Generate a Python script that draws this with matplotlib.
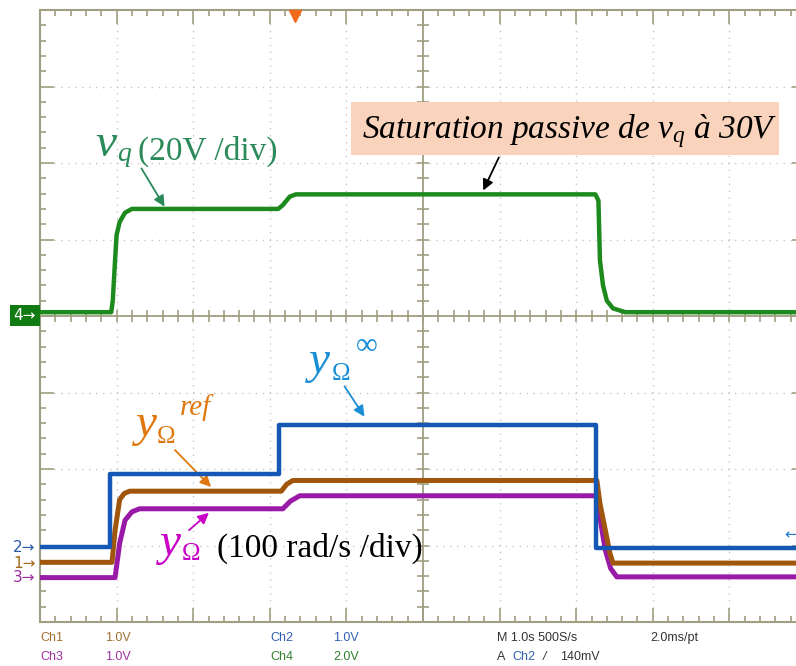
import numpy as np
import matplotlib
matplotlib.use("Agg")
import matplotlib.pyplot as plt
from matplotlib.patches import Rectangle

plt.rcParams['mathtext.fontset'] = 'custom'
plt.rcParams['mathtext.rm'] = 'Liberation Serif'
plt.rcParams['mathtext.it'] = 'Liberation Serif:italic'

# traces, in screen divisions (time div, vertical div; 0 = centre line)
t_vq = [0, 0.93, 0.95, 0.98, 1.0, 1.04, 1.11, 1.2, 3.11, 3.17, 3.26, 3.34, 7.25, 7.29, 7.31, 7.35, 7.40, 7.48, 7.64, 10]
v_vq = [0.05, 0.05, 0.2, 0.73, 1.06, 1.23, 1.35, 1.40, 1.40, 1.45, 1.56, 1.59, 1.59, 1.51, 0.73, 0.4, 0.2, 0.1, 0.05, 0.05]

t_inf = [0, 0.91, 0.91, 3.12, 3.12, 7.26, 7.26, 10]
v_inf = [-3.02, -3.02, -2.07, -2.07, -1.43, -1.43, -3.03, -3.03]

t_ref = [0, 0.94, 0.98, 1.04, 1.10, 1.17, 3.15, 3.22, 3.30, 7.27, 7.31, 7.38, 7.44, 7.48, 10]
v_ref = [-3.22, -3.22, -2.8, -2.4, -2.32, -2.29, -2.29, -2.2, -2.15, -2.15, -2.45, -2.8, -3.1, -3.23, -3.23]

t_om = [0, 0.98, 1.04, 1.11, 1.20, 1.30, 3.17, 3.27, 3.39, 7.27, 7.32, 7.38, 7.45, 7.53, 10]
v_om = [-3.42, -3.42, -2.97, -2.67, -2.56, -2.52, -2.52, -2.42, -2.35, -2.35, -2.7, -3.06, -3.3, -3.41, -3.41]

W, H = 796, 666
fig = plt.figure(figsize=(W / 100, H / 100), dpi=100)
fig.patch.set_facecolor('white')


def px(x, y):
    return (x / W, 1 - y / H)


frame = '#a09e82'
ax = fig.add_axes([40 / W, 44 / H, 766 / W, 612 / H])
ax.set_xlim(0, 10)
ax.set_ylim(-4, 4)
for s in ax.spines.values():
    s.set_color(frame)
    s.set_linewidth(1.5)
ax.set_xticks(np.arange(0, 11, 1))
ax.set_yticks(np.arange(-4, 5, 1))
ax.set_xticks(np.arange(0, 10.01, 0.2), minor=True)
ax.set_yticks(np.arange(-4, 4.01, 0.2), minor=True)
ax.tick_params(which='both', direction='in', color=frame, top=True, right=True,
               labelbottom=False, labelleft=False, width=1.2)
ax.tick_params(which='major', length=10)
ax.tick_params(which='minor', length=4.5)

# dotted graticule
for g in range(1, 10):
    if g != 5:
        ax.axvline(g, color='#c8c8c8', lw=1, ls=(0, (1, 4)), zorder=0)
for g in range(-3, 4):
    if g != 0:
        ax.axhline(g, color='#c8c8c8', lw=1, ls=(0, (1, 4)), zorder=0)

# centre axes with tick marks
ax.axhline(0, color=frame, lw=1.3, zorder=1)
ax.axvline(5, color=frame, lw=1.3, zorder=1)
xt = np.arange(0, 10.01, 0.2)
yt = np.arange(-4, 4.01, 0.2)
ax.plot(xt, np.zeros_like(xt), ls='none', marker='|', ms=9, mew=1.2, color=frame, zorder=1)
ax.plot(np.full_like(yt, 5), yt, ls='none', marker='_', ms=9, mew=1.2, color=frame, zorder=1)

# traces
ax.plot(t_vq, v_vq, color='#1d8a1d', lw=3.2, zorder=3)
ax.plot(t_om, v_om, color='#9a1aa8', lw=3.6, zorder=3)
ax.plot(t_ref, v_ref, color='#a0560c', lw=3.6, zorder=4)
ax.plot(t_inf, v_inf, color='#1457b4', lw=3.2, zorder=5)

# trigger marker
ax.plot([3.33], [3.92], marker='v', ms=9, color='#f26a1b', clip_on=False, zorder=6)

# channel markers on the left
fig.patches.append(Rectangle(px(10, 326), 30 / W, 21 / H, transform=fig.transFigure,
                             facecolor='#127a12', edgecolor='none'))
fig.text(*px(13, 316), '4\u2192', color='white', fontsize=11, va='center', family='DejaVu Sans')
fig.text(*px(13, 547), '2\u2192', color='#2a5aa8', fontsize=11, va='center', family='DejaVu Sans')
fig.text(*px(13, 563), '1\u2192', color='#a0661c', fontsize=11, va='center', family='DejaVu Sans')
fig.text(*px(13, 578), '3\u2192', color='#9a2a9a', fontsize=11, va='center', family='DejaVu Sans')
fig.text(*px(784, 535), '\u2190', color='#1a7ad0', fontsize=11, va='center', family='DejaVu Sans')

serif = 'Liberation Serif'

# v_q label
cg = '#2a8a5a'
fig.text(*px(95, 156), 'v', color=cg, fontsize=34, style='italic', family=serif)
fig.text(*px(117, 161), 'q', color=cg, fontsize=20, style='italic', family=serif)
fig.text(*px(138, 160), '(20V /div)', color=cg, fontsize=24, family=serif)
ax.annotate('', xy=px(166, 209), xytext=px(140, 166), xycoords='figure fraction',
            arrowprops=dict(arrowstyle='-|>', color=cg, lw=1.3, mutation_scale=16))

# saturation box
fig.patches.append(Rectangle(px(351, 155), 428 / W, 53 / H, transform=fig.transFigure,
                             facecolor='#f9d3bb', edgecolor='none', zorder=5))
fig.text(*px(362, 138), r'Saturation passive de $v_q$ à 30V', color='black', fontsize=24,
         style='italic', family=serif, zorder=6)
ax.annotate('', xy=px(482, 193), xytext=px(500, 155), xycoords='figure fraction',
            arrowprops=dict(arrowstyle='-|>', color='black', lw=1.3, mutation_scale=16))

# y_Omega^inf
cb = '#1a8fd5'
fig.text(*px(309, 373), 'y', color=cb, fontsize=34, style='italic', family=serif)
fig.text(*px(332, 380), '\u03a9', color=cb, fontsize=18, family=serif)
fig.text(*px(356, 354), '\u221e', color=cb, fontsize=22, family=serif)
ax.annotate('', xy=px(366, 419), xytext=px(343, 384), xycoords='figure fraction',
            arrowprops=dict(arrowstyle='-|>', color=cb, lw=1.3, mutation_scale=16))

# y_Omega^ref
co = '#e0780f'
fig.text(*px(136, 436), 'y', color=co, fontsize=34, style='italic', family=serif)
fig.text(*px(157, 443), '\u03a9', color=co, fontsize=18, family=serif)
fig.text(*px(180, 415), 'ref', color=co, fontsize=21, style='italic', family=serif)
ax.annotate('', xy=px(213, 489), xytext=px(173, 448), xycoords='figure fraction',
            arrowprops=dict(arrowstyle='-|>', color=co, lw=1.3, mutation_scale=16))

# y_Omega
cm = '#c800c8'
fig.text(*px(160, 555), 'y', color=cm, fontsize=34, style='italic', family=serif)
fig.text(*px(182, 560), '\u03a9', color=cm, fontsize=18, family=serif)
fig.text(*px(217, 557), '(100 rad/s /div)', color='black', fontsize=24, family=serif)
ax.annotate('', xy=px(211, 511), xytext=px(187, 532), xycoords='figure fraction',
            arrowprops=dict(arrowstyle='-|>', color=cm, lw=1.3, mutation_scale=16))

# scope status line
sf = dict(fontsize=9, family='Liberation Sans')
fig.text(*px(40, 641), 'Ch1', color='#a07030', **sf)
fig.text(*px(105, 641), '1.0V', color='#a07030', **sf)
fig.text(*px(40, 660), 'Ch3', color='#a030a0', **sf)
fig.text(*px(105, 660), '1.0V', color='#a030a0', **sf)
fig.text(*px(270, 641), 'Ch2', color='#3060b0', **sf)
fig.text(*px(333, 641), '1.0V', color='#3060b0', **sf)
fig.text(*px(270, 660), 'Ch4', color='#308030', **sf)
fig.text(*px(333, 660), '2.0V', color='#308030', **sf)
fig.text(*px(497, 641), 'M 1.0s 500S/s', color='#333333', **sf)
fig.text(*px(650, 641), '2.0ms/pt', color='#333333', **sf)
fig.text(*px(497, 660), 'A', color='#333333', **sf)
fig.text(*px(512, 660), 'Ch2', color='#3060b0', **sf)
fig.text(*px(543, 660), '/', color='#333333', style='italic', **sf)
fig.text(*px(560, 660), '140mV', color='#333333', **sf)

fig.savefig('out.png', dpi=100, facecolor='white')
